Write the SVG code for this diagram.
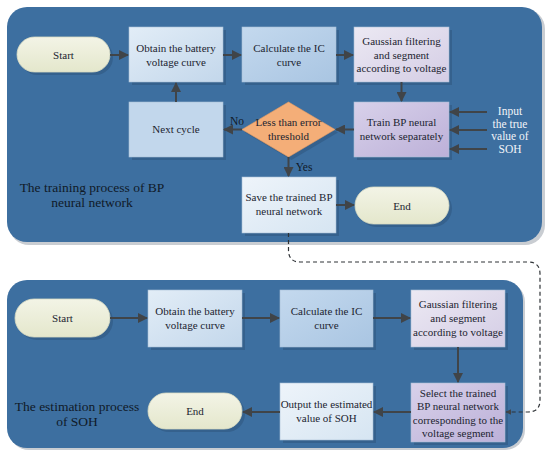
<svg xmlns="http://www.w3.org/2000/svg" width="550" height="455" viewBox="0 0 550 455">
<defs>
<linearGradient id="gBlue" x1="0" y1="0" x2="1" y2="1"><stop offset="0" stop-color="#e2edf7"/><stop offset="1" stop-color="#c3d7eb"/></linearGradient>
<linearGradient id="gBlue2" x1="0" y1="0" x2="1" y2="1"><stop offset="0" stop-color="#c4d9ee"/><stop offset="1" stop-color="#a9c5e2"/></linearGradient>
<linearGradient id="gLav" x1="0" y1="0" x2="1" y2="1"><stop offset="0" stop-color="#ece9f3"/><stop offset="1" stop-color="#d4cde5"/></linearGradient>
<linearGradient id="gPur" x1="0" y1="0" x2="1" y2="1"><stop offset="0" stop-color="#d8d1ea"/><stop offset="1" stop-color="#bcb0d8"/></linearGradient>
<linearGradient id="gPale" x1="0" y1="0" x2="1" y2="1"><stop offset="0" stop-color="#eef4fa"/><stop offset="1" stop-color="#d6e5f2"/></linearGradient>
<linearGradient id="gPill" x1="0" y1="0" x2="0" y2="1"><stop offset="0" stop-color="#f3f4e6"/><stop offset="1" stop-color="#e4e7cc"/></linearGradient>
<marker id="ah" viewBox="0 0 10 10" refX="9" refY="5" markerWidth="5" markerHeight="5" orient="auto"><path d="M0,0 L10,5 L0,10 z" fill="#404448"/></marker>
</defs>
<style>
.panel{fill:#3d6fa0}
.pshadow{fill:#c9cdd2}
.sh{fill:#35618d}
.box{stroke:#a9bfd6;stroke-width:0.6}
.pill{fill:url(#gPill);stroke:#d9dcc3;stroke-width:0.8}
.t{font-family:"Liberation Serif","Times New Roman",serif;font-size:11px;fill:#1c2430;text-anchor:middle}
.lbl{font-family:"Liberation Serif","Times New Roman",serif;font-size:13.5px;fill:#101a28;text-anchor:middle}
.wt{font-family:"Liberation Serif","Times New Roman",serif;font-size:11.5px;fill:#f2f4f8;text-anchor:middle}
.c{stroke:#404448;stroke-width:2;fill:none;marker-end:url(#ah)}
.d{stroke:#2e3236;stroke-width:1.2;fill:none;stroke-dasharray:4,3;marker-end:url(#ah)}
</style>

<g id="panels">
<rect class="pshadow" x="9" y="9" width="536" height="236" rx="20"/>
<rect class="panel" x="7" y="7" width="535" height="235" rx="20"/>
<rect class="pshadow" x="9" y="282" width="516" height="168" rx="20"/>
<rect class="panel" x="7" y="280" width="516" height="168" rx="20"/>
</g>

<g id="labels">
<text class="lbl" x="92" y="192">The training process of BP</text>
<text class="lbl" x="92" y="207">neural network</text>
<text class="lbl" x="77" y="411">The estimation process</text>
<text class="lbl" x="77" y="426">of SOH</text>
<text class="wt" x="510" y="115">Input</text>
<text class="wt" x="510" y="127.5">the true</text>
<text class="wt" x="510" y="140">value of</text>
<text class="wt" x="510" y="152.5">SOH</text>
<text class="t" x="237" y="125" style="fill:#101a28;font-size:11.5px">No</text>
<text class="t" x="304" y="171" style="fill:#101a28;font-size:11.5px">Yes</text>
</g>

<!-- top process -->
<g id="t-start"><rect class="sh" x="20" y="40" width="93" height="35" rx="17.5"/><rect class="pill" x="17" y="37" width="93" height="35" rx="17.5"/><text class="t" x="63.5" y="58.5">Start</text></g>
<g id="t-obtain"><rect class="sh" x="132" y="30" width="94" height="55"/><rect class="box" fill="url(#gBlue)" x="129" y="27" width="94" height="55"/><text class="t" x="176" y="52">Obtain the battery</text><text class="t" x="176" y="66">voltage curve</text></g>
<g id="t-calc"><rect class="sh" x="245" y="30" width="94" height="55"/><rect class="box" fill="url(#gBlue2)" x="242" y="27" width="94" height="55"/><text class="t" x="289" y="52">Calculate the IC</text><text class="t" x="289" y="66">curve</text></g>
<g id="t-gauss"><rect class="sh" x="357" y="30" width="95" height="55"/><rect class="box" fill="url(#gLav)" x="354" y="27" width="95" height="55"/><text class="t" x="401.5" y="45">Gaussian filtering</text><text class="t" x="401.5" y="58.5">and segment</text><text class="t" x="401.5" y="72">according to voltage</text></g>
<g id="t-train"><rect class="sh" x="357" y="105" width="95" height="55"/><rect class="box" fill="url(#gPur)" x="354" y="102" width="95" height="55"/><text class="t" x="401.5" y="126">Train BP neural</text><text class="t" x="401.5" y="140">network separately</text></g>
<g id="t-next"><rect class="sh" x="132" y="105" width="94" height="55"/><rect class="box" x="129" y="102" width="94" height="55" style="fill:#c2d7ec"/><text class="t" x="176" y="133">Next cycle</text></g>
<g id="t-decide"><path class="sh" d="M291.5,105 L338,132.5 L291.5,160 L245,132.5 z"/><path d="M288.5,102 L335,129.5 L288.5,157 L242,129.5 z" fill="#f4ae78" stroke="#e89c62" stroke-width="0.6"/><text class="t" x="288.5" y="126">Less than error</text><text class="t" x="288.5" y="139.5">threshold</text></g>
<g id="t-save"><rect class="sh" x="245" y="180" width="94" height="56"/><rect class="box" fill="url(#gPale)" x="242" y="177" width="94" height="56"/><text class="t" x="289" y="201">Save the trained BP</text><text class="t" x="289" y="215">neural network</text></g>
<g id="t-end"><rect class="sh" x="358" y="190" width="94" height="37" rx="18.5"/><rect class="pill" x="355" y="187" width="94" height="37" rx="18.5"/><text class="t" x="402" y="209.5">End</text></g>

<!-- bottom process -->
<g id="b-start"><rect class="sh" x="18" y="302" width="95" height="38" rx="19"/><rect class="pill" x="15" y="299" width="95" height="38" rx="19"/><text class="t" x="62.5" y="322">Start</text></g>
<g id="b-obtain"><rect class="sh" x="151" y="293" width="94" height="57"/><rect class="box" fill="url(#gBlue)" x="148" y="290" width="94" height="57"/><text class="t" x="195" y="315">Obtain the battery</text><text class="t" x="195" y="329">voltage curve</text></g>
<g id="b-calc"><rect class="sh" x="283" y="293" width="93" height="57"/><rect class="box" fill="url(#gBlue2)" x="280" y="290" width="93" height="57"/><text class="t" x="326.5" y="315">Calculate the IC</text><text class="t" x="326.5" y="329">curve</text></g>
<g id="b-gauss"><rect class="sh" x="414" y="293" width="94" height="57"/><rect class="box" fill="url(#gLav)" x="411" y="290" width="94" height="57"/><text class="t" x="458" y="308">Gaussian filtering</text><text class="t" x="458" y="322">and segment</text><text class="t" x="458" y="336">according to voltage</text></g>
<g id="b-select"><rect class="sh" x="414" y="386" width="94" height="59"/><rect class="box" fill="url(#gPur)" x="411" y="383" width="94" height="59"/><text class="t" x="458" y="396.5">Select the trained</text><text class="t" x="458" y="410">BP neural network</text><text class="t" x="458" y="423.5">corresponding to the</text><text class="t" x="458" y="437">voltage segment</text></g>
<g id="b-output"><rect class="sh" x="283" y="386" width="93" height="57"/><rect class="box" fill="url(#gPale)" x="280" y="383" width="93" height="57"/><text class="t" x="326.5" y="408">Output the estimated</text><text class="t" x="326.5" y="422">value of SOH</text></g>
<g id="b-end"><rect class="sh" x="151" y="396" width="94" height="36" rx="18"/><rect class="pill" x="148" y="393" width="94" height="36" rx="18"/><text class="t" x="195" y="415">End</text></g>

<g id="connectors">
<line class="c" x1="110" y1="55" x2="128" y2="55"/>
<line class="c" x1="223" y1="55" x2="241" y2="55"/>
<line class="c" x1="336" y1="55" x2="353" y2="55"/>
<line class="c" x1="401.5" y1="82" x2="401.5" y2="101"/>
<line class="c" x1="354" y1="129.5" x2="336" y2="129.5"/>
<line class="c" x1="242" y1="129.5" x2="224" y2="129.5"/>
<line class="c" x1="176" y1="102" x2="176" y2="83"/>
<line class="c" x1="288.5" y1="157" x2="288.5" y2="176"/>
<line class="c" x1="336" y1="205" x2="354" y2="205"/>
<line class="c" x1="487" y1="112" x2="450" y2="112"/>
<line class="c" x1="487" y1="130" x2="450" y2="130"/>
<line class="c" x1="487" y1="149" x2="450" y2="149"/>
<line class="c" x1="110" y1="318" x2="147" y2="318"/>
<line class="c" x1="242" y1="318" x2="279" y2="318"/>
<line class="c" x1="373" y1="318" x2="410" y2="318"/>
<line class="c" x1="458" y1="347" x2="458" y2="382"/>
<line class="c" x1="411" y1="412" x2="374" y2="412"/>
<line class="c" x1="280" y1="412" x2="243" y2="412"/>
<path class="d" d="M288.5,233 L288.5,250 Q288.5,262 300,262 L528,262 Q540,262 540,274 L540,400 Q540,412 528,412 L506,412"/>
</g>
</svg>
